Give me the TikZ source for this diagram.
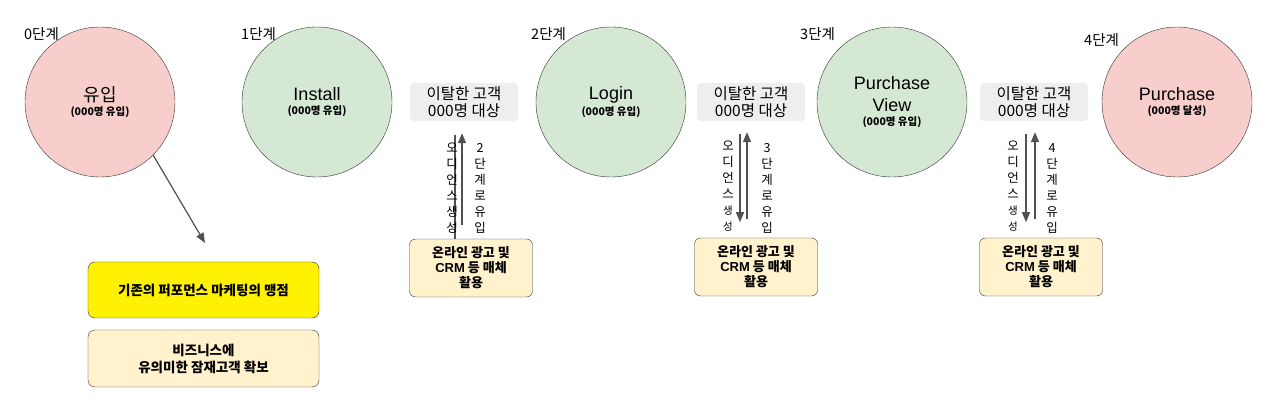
\documentclass[tikz,border=0pt]{standalone}
\usepackage{fontspec}
\setmainfont{Noto Sans CJK KR}
\newfontfamily\latin{Liberation Sans}
\usetikzlibrary{arrows.meta}

\definecolor{pinkfill}{HTML}{F8CECC}
\definecolor{greenfill}{HTML}{D5E8D4}
\definecolor{grayfill}{HTML}{EEEEEE}
\definecolor{creamfill}{HTML}{FFF2CC}
\definecolor{linegray}{HTML}{333333}
\definecolor{arrowgray}{HTML}{505050}

\tikzset{
	stage/.style={circle, draw=linegray, minimum size=150pt, inner sep=0pt, align=center},
	steplabel/.style={anchor=west, inner sep=0pt, font=\fontsize{14.5}{17}\selectfont},
	dropbox/.style={fill=grayfill, rounded corners=4pt, minimum width=108pt, minimum height=38pt, inner sep=0pt, align=center, font=\fontsize{15.5}{17}\selectfont},
	mediabox/.style={draw=linegray, fill=creamfill, rounded corners=6pt, minimum width=123pt, minimum height=58pt, inner sep=0pt, align=center, font=\fontsize{13}{15}\selectfont\bfseries},
	notebox/.style={draw=linegray, rounded corners=7pt, minimum width=231pt, minimum height=56pt, inner sep=0pt, align=center, font=\fontsize{13.5}{17}\selectfont\bfseries},
	flow/.style={draw=arrowgray, line width=1.2pt, -{Triangle[length=10pt,width=8pt]}},
	vtext/.style={align=center, inner sep=0pt, font=\fontsize{12.5}{16}\selectfont},
}
\newcommand{\stagecount}[1]{{\fontsize{10.5}{12}\selectfont\bfseries #1}}
\newcommand{\stagename}[1]{{\fontsize{18}{20}\selectfont\latin #1}}
\newcommand{\smallch}[1]{{\fontsize{10.5}{16}\selectfont #1}}

\begin{document}
\begin{tikzpicture}[x=1pt, y=-1pt]
	\useasboundingbox (0,0) rectangle (1280,403);
	
	% stages
	\node[stage, fill=pinkfill] (in0) at (100,102) {{\fontsize{18}{20}\selectfont 유입}\\[2pt]\stagecount{(000명 유입)}};
	\node[stage, fill=greenfill] (install1) at (317,102) {\stagename{Install}\\[2pt]\stagecount{(000명 유입)}};
	\node[stage, fill=greenfill] (login2) at (611,102) {\stagename{Login}\\[2pt]\stagecount{(000명 유입)}};
	\node[stage, fill=greenfill] (view3) at (892,102) {\stagename{Purchase}\\[8pt]\stagename{View}\\[2pt]\stagecount{(000명 유입)}};
	\node[stage, fill=pinkfill] (buy4) at (1177,102) {\stagename{Purchase}\\[2pt]\stagecount{(000명 달성)}};
	
	\node[steplabel] (lab0) at (24,34) {0단계};
	\node[steplabel] (lab1) at (241,34) {1단계};
	\node[steplabel] (lab2) at (531,34) {2단계};
	\node[steplabel] (lab3) at (800,34) {3단계};
	\node[steplabel] (lab4) at (1084,40) {4단계};
	
	% churned customers
	\node[dropbox] (drop2) at (464,102) {이탈한 고객\\000명 대상};
	\node[dropbox] (drop3) at (751,102) {이탈한 고객\\000명 대상};
	\node[dropbox] (drop4) at (1034,102) {이탈한 고객\\000명 대상};
	
	\node[mediabox] (media2) at (471,268) {온라인 광고 및\\{\latin CRM} 등 매체\\활용};
	\node[mediabox] (media3) at (756,267) {온라인 광고 및\\{\latin CRM} 등 매체\\활용};
	\node[mediabox] (media4) at (1041,267) {온라인 광고 및\\{\latin CRM} 등 매체\\활용};
	
	% loops back
	\draw[draw=arrowgray, line width=1.2pt] ([xshift=-9pt,yshift=-14pt]drop2.south) -- ([xshift=-9pt,yshift=-118pt]drop2.south);
	\draw[flow] ([xshift=-2pt,yshift=-104pt]drop2.south) -- ([xshift=-2pt,yshift=-12pt]drop2.south);
	\draw[flow] ([xshift=-11pt,yshift=-13pt]drop3.south) -- ([xshift=-11pt,yshift=-101pt]drop3.south);
	\draw[flow] ([xshift=-4pt,yshift=-98pt]drop3.south) -- ([xshift=-4pt,yshift=-11pt]drop3.south);
	\draw[flow] ([xshift=-8pt,yshift=-13pt]drop4.south) -- ([xshift=-8pt,yshift=-101pt]drop4.south);
	\draw[flow] ([xshift=1pt,yshift=-98pt]drop4.south) -- ([xshift=1pt,yshift=-11pt]drop4.south);
	
	\node[vtext] (aud2) at (452,188) {오\\디\\언\\스\\생\\성};
	\node[vtext] (go2) at (480,188) {2\\단\\계\\로\\유\\입};
	\node[vtext] (aud3) at (728,186) {오\\디\\언\\스\\\smallch{생}\\\smallch{성}};
	\node[vtext] (go3) at (767,188) {3\\단\\계\\로\\유\\입};
	\node[vtext] (aud4) at (1013,186) {오\\디\\언\\스\\\smallch{생}\\\smallch{성}};
	\node[vtext] (go4) at (1052,188) {4\\단\\계\\로\\유\\입};
	
	% blind spot
	\coordinate (blindtip) at (205,243);
	\draw[flow] (in0.-45) -- (blindtip);
	\node[notebox, fill=yellow] (blind) at (203.5,290) {기존의 퍼포먼스 마케팅의 맹점};
	\node[notebox, fill=creamfill, minimum height=57pt] (gain) at (203.5,358.5) {비즈니스에\\유의미한 잠재고객 확보};
\end{tikzpicture}
\end{document}
